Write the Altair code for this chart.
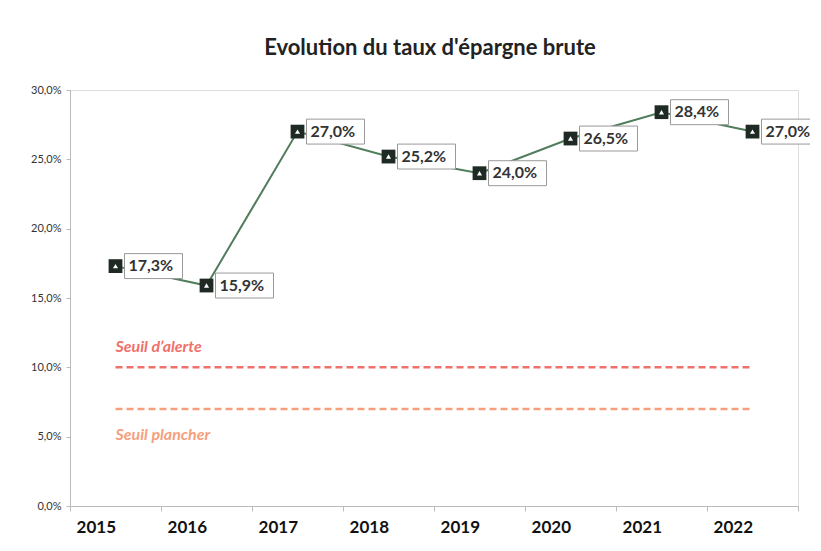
import altair as alt
import pandas as pd

years = ["2015", "2016", "2017", "2018", "2019", "2020", "2021", "2022"]
taux = [0.173, 0.159, 0.270, 0.252, 0.240, 0.265, 0.284, 0.270]

seuil_names = ["Seuil d’alerte", "Seuil plancher"]
seuil_values = [0.10, 0.07]
seuil_colors = ["#f0706a", "#f5a07c"]
y_ticks = [0.0, 0.05, 0.10, 0.15, 0.20, 0.25, 0.30]

df = pd.DataFrame({"year": years, "taux": taux})
df["label"] = [f"{v*100:.1f}%".replace(".", ",") for v in taux]

rows = []
for n, v in zip(seuil_names, seuil_values):
    rows.append({"year": years[0], "v": v, "name": n})
    rows.append({"year": years[-1], "v": v, "name": n})
seuils = pd.DataFrame(rows)
seuil_lab = pd.DataFrame({"year": [years[0]] * 2, "v": seuil_values, "name": seuil_names})

FONT = "Lato"
xenc = alt.X("year:O", scale=alt.Scale(type="band", paddingInner=0, paddingOuter=0),
             axis=alt.Axis(title=None, labelAngle=0, labelFont=FONT, labelFontSize=17,
                           labelFontWeight="bold", labelColor="#111", labelPadding=16,
                           tickBand="extent", tickSize=5, tickColor="#bbb",
                           domainColor="#bbb", grid=False))
yscale = alt.Scale(domain=[0, 0.30], nice=False)
yenc = alt.Y("taux:Q", scale=yscale,
             axis=alt.Axis(title=None, values=y_ticks, labelFont=FONT, labelFontSize=11,
                           labelColor="#333", tickSize=4, tickColor="#bbb",
                           domainColor="#bbb", grid=False, labelPadding=5,
                           labelExpr="replace(format(datum.value, '.1%'), '.', ',')"))

base = alt.Chart(df)
line = base.mark_line(color="#507d5c", strokeWidth=2).encode(x=xenc, y=yenc)
marker = base.mark_point(shape="square", filled=True, color="#1e2a23", size=190, opacity=1).encode(x=xenc, y=yenc)
tri = base.mark_point(shape="triangle-up", filled=True, color="white", size=26, opacity=1).encode(x=xenc, y=yenc)
box = base.mark_point(shape="M-1,-0.43L1,-0.43L1,0.43L-1,0.43Z", filled=True, fill="white",
                      stroke="#999", strokeWidth=1, size=3364, opacity=1, xOffset=38).encode(x=xenc, y=yenc)
txt = base.mark_text(align="left", baseline="middle", dx=13, font=FONT, fontSize=16,
                     fontWeight="bold", color="#333").encode(x=xenc, y=yenc, text="label:N")

color_scale = alt.Scale(domain=seuil_names, range=seuil_colors)
sl = alt.Chart(seuils).mark_line(strokeDash=[7, 4], strokeWidth=2.5).encode(
    x=alt.X("year:O"), y=alt.Y("v:Q"), detail="name:N",
    color=alt.Color("name:N", scale=color_scale, legend=None))
lab1 = alt.Chart(seuil_lab[seuil_lab["name"] == seuil_names[0]]).mark_text(
    align="left", baseline="middle", dy=-20, font=FONT, fontSize=16, fontStyle="italic",
    fontWeight="bold").encode(x="year:O", y="v:Q", text="name:N",
                              color=alt.Color("name:N", scale=color_scale, legend=None))
lab2 = alt.Chart(seuil_lab[seuil_lab["name"] == seuil_names[1]]).mark_text(
    align="left", baseline="middle", dy=26, font=FONT, fontSize=16, fontStyle="italic",
    fontWeight="bold").encode(x="year:O", y="v:Q", text="name:N",
                              color=alt.Color("name:N", scale=color_scale, legend=None))

chart = alt.layer(sl, lab1, lab2, line, marker, tri, box, txt).properties(
    width=728, height=416,
    title=alt.TitleParams("Evolution du taux d'épargne brute", font=FONT, fontSize=22,
                          fontWeight="bold", color="#222", anchor="middle", offset=24, dx=-4),
    autosize=alt.AutoSizeParams(type="none"),
    padding={"left": 62, "top": 82, "right": 12, "bottom": 40},
).configure_view(stroke=None).configure(background="white")

chart.save("out.html", embed_options={"renderer": "svg", "actions": False})
